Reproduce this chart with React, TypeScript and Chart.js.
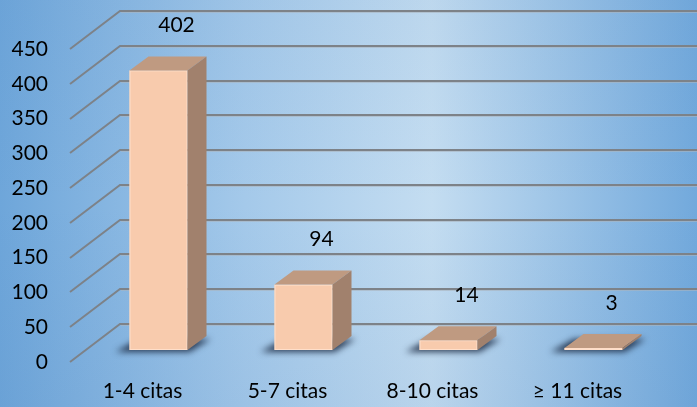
import { useEffect, useRef } from 'react';
import { Chart, registerables } from 'chart.js';

Chart.register(...registerables);

const categories = ['1-4 citas', '5-7 citas', '8-10 citas', '≥ 11 citas'];
const values = [402, 94, 14, 3];
const yMin = 0;
const yMax = 450;
const yStep = 50;

const FONT = 'Lato, "Open Sans", sans-serif';

const threeD = {
  id: 'threeD',
  beforeDraw(chart: any) {
    const { ctx, width, height } = chart;
    ctx.save();
    const g = ctx.createLinearGradient(0, 0, width, 0);
    g.addColorStop(0, '#6ea6da');
    g.addColorStop(0.35, '#a4c9ea');
    g.addColorStop(0.62, '#c4ddf1');
    g.addColorStop(1, '#72a9dc');
    ctx.fillStyle = g;
    ctx.fillRect(0, 0, width, height);
    const v = ctx.createLinearGradient(0, 0, 0, height);
    v.addColorStop(0, 'rgba(60,110,170,0.05)');
    v.addColorStop(0.5, 'rgba(60,110,170,0)');
    v.addColorStop(1, 'rgba(60,110,170,0.08)');
    ctx.fillStyle = v;
    ctx.fillRect(0, 0, width, height);
    ctx.restore();
  },
  beforeDatasetsDraw(chart: any) {
    const { ctx, chartArea, scales } = chart;
    const y = scales.y;
    const bx = 50, by = -38;
    ctx.save();
    y.ticks.forEach((t: any) => {
      const py = Math.round(y.getPixelForValue(t.value));
      ctx.beginPath();
      ctx.moveTo(chartArea.left, py);
      ctx.lineTo(chartArea.left + bx, py + by);
      ctx.lineTo(chart.width, py + by);
      ctx.strokeStyle = '#7d8288';
      ctx.lineWidth = 2;
      ctx.stroke();
      ctx.beginPath();
      ctx.moveTo(chartArea.left + bx + 1, py + by + 1.5);
      ctx.lineTo(chart.width, py + by + 1.5);
      ctx.strokeStyle = 'rgba(170,180,190,0.6)';
      ctx.lineWidth = 1;
      ctx.stroke();
    });
    ctx.restore();
  },
  afterDatasetsDraw(chart: any) {
    const { ctx, scales } = chart;
    const x = scales.x;
    const y = scales.y;
    const data = chart.data.datasets[0].data as number[];
    const step = x.getPixelForValue(1) - x.getPixelForValue(0);
    const w = step * 0.4;
    const px = 16, py = -12;
    const dx = 19, dy = -14;
    ctx.save();
    data.forEach((val: number, i: number) => {
      const cx = x.getPixelForValue(i) + px;
      const L = cx - w / 2;
      const R = cx + w / 2;
      const y0 = y.getPixelForValue(0) + py;
      const yt = y.getPixelForValue(val) + py;
      // shadow
      ctx.save();
      ctx.filter = 'blur(3px)';
      ctx.fillStyle = 'rgba(25,40,65,0.85)';
      ctx.beginPath();
      ctx.moveTo(L - 14, y0 + 2);
      ctx.lineTo(R + 2, y0 + 2);
      ctx.lineTo(R + dx + 4, y0 + dy + 3);
      ctx.lineTo(L + dx - 10, y0 + dy + 3);
      ctx.closePath();
      ctx.fill();
      ctx.restore();
      // front
      ctx.fillStyle = '#f8cbad';
      ctx.fillRect(L, yt, w, y0 - yt);
      ctx.strokeStyle = 'rgba(255,225,205,0.9)';
      ctx.lineWidth = 1;
      ctx.strokeRect(L + 0.5, yt + 0.5, w - 1, y0 - yt - 1);
      // top
      ctx.fillStyle = '#bf9a81';
      ctx.beginPath();
      ctx.moveTo(L, yt);
      ctx.lineTo(R, yt);
      ctx.lineTo(R + dx, yt + dy);
      ctx.lineTo(L + dx, yt + dy);
      ctx.closePath();
      ctx.fill();
      // side
      ctx.fillStyle = '#a1816d';
      ctx.beginPath();
      ctx.moveTo(R, yt);
      ctx.lineTo(R + dx, yt + dy);
      ctx.lineTo(R + dx, y0 + dy);
      ctx.lineTo(R, y0);
      ctx.closePath();
      ctx.fill();
      // label
      ctx.fillStyle = '#000';
      ctx.font = '21px ' + FONT;
      ctx.textAlign = 'center';
      ctx.textBaseline = 'middle';
      ctx.fillText(String(val), x.getPixelForValue(i) + 34, y.getPixelForValue(val) - 57);
    });
    ctx.restore();
  },
};

export default function App() {
  const ref = useRef<HTMLCanvasElement | null>(null);
  useEffect(() => {
    if (!ref.current) return;
    const chart = new Chart(ref.current, {
      type: 'bar',
      data: {
        labels: categories,
        datasets: [
          {
            data: values,
            backgroundColor: 'rgba(0,0,0,0)',
            borderWidth: 0,
          },
        ],
      },
      options: {
        responsive: false,
        animation: false,
        events: [],
        layout: { padding: { top: 49, right: 47, left: 0, bottom: 0 } },
        plugins: { legend: { display: false }, tooltip: { enabled: false } },
        scales: {
          x: {
            grid: { display: false, drawTicks: false },
            border: { display: false },
            ticks: { color: '#000', font: { family: FONT, size: 21 }, padding: 17, maxRotation: 0 },
            afterFit: (s: any) => {
              s.height = 45;
            },
          },
          y: {
            min: yMin,
            max: yMax,
            grid: { display: false, drawTicks: false },
            border: { display: false },
            ticks: { stepSize: yStep, color: '#000', font: { family: FONT, size: 21 }, padding: 22 },
            afterFit: (s: any) => {
              s.width = 70;
            },
          },
        },
      },
      plugins: [threeD],
    });
    return () => chart.destroy();
  }, []);
  return (
    <div style={{ position: 'fixed', left: 0, top: 0, width: 697, height: 407 }}>
      <canvas ref={ref} width={697} height={407} style={{ display: 'block' }} />
    </div>
  );
}
